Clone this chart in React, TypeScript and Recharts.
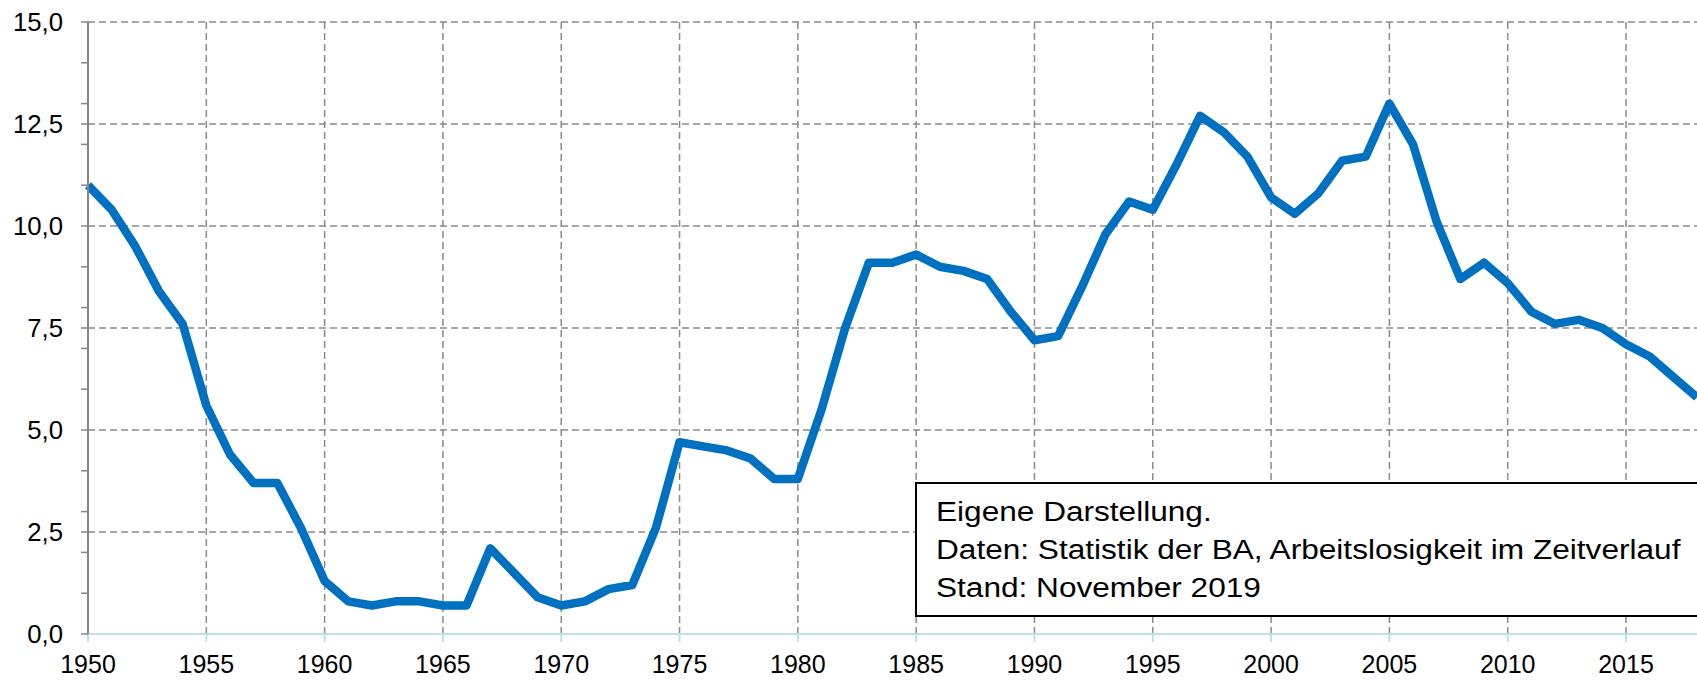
import { LineChart, Line, XAxis, YAxis, CartesianGrid } from "recharts";

const years = [
  1950, 1951, 1952, 1953, 1954, 1955, 1956, 1957, 1958, 1959,
  1960, 1961, 1962, 1963, 1964, 1965, 1966, 1967, 1968, 1969,
  1970, 1971, 1972, 1973, 1974, 1975, 1976, 1977, 1978, 1979,
  1980, 1981, 1982, 1983, 1984, 1985, 1986, 1987, 1988, 1989,
  1990, 1991, 1992, 1993, 1994, 1995, 1996, 1997, 1998, 1999,
  2000, 2001, 2002, 2003, 2004, 2005, 2006, 2007, 2008, 2009,
  2010, 2011, 2012, 2013, 2014, 2015, 2016, 2017, 2018,
];

// Arbeitslosenquote in %
const rates = [
  11.0, 10.4, 9.5, 8.4, 7.6, 5.6, 4.4, 3.7, 3.7, 2.6,
  1.3, 0.8, 0.7, 0.8, 0.8, 0.7, 0.7, 2.1, 1.5, 0.9,
  0.7, 0.8, 1.1, 1.2, 2.6, 4.7, 4.6, 4.5, 4.3, 3.8,
  3.8, 5.5, 7.5, 9.1, 9.1, 9.3, 9.0, 8.9, 8.7, 7.9,
  7.2, 7.3, 8.5, 9.8, 10.6, 10.4, 11.5, 12.7, 12.3, 11.7,
  10.7, 10.3, 10.8, 11.6, 11.7, 13.0, 12.0, 10.1, 8.7, 9.1,
  8.6, 7.9, 7.6, 7.7, 7.5, 7.1, 6.8, 6.3, 5.8,
];

const xTicks = [1950, 1955, 1960, 1965, 1970, 1975, 1980, 1985, 1990, 1995, 2000, 2005, 2010, 2015];
const yLabelTicks = [0, 2.5, 5, 7.5, 10, 12.5, 15];
const yMinorTicks = [0, 1, 2, 3, 4, 5, 6, 7, 8, 9, 10, 11, 12, 13, 14, 15];

const noteLines = [
  "Eigene Darstellung.",
  "Daten: Statistik der BA, Arbeitslosigkeit im Zeitverlauf",
  "Stand: November 2019",
];

const data = years.map((year, i) => ({ year, rate: rates[i] }));
const yAllTicks = Array.from(new Set([...yMinorTicks, ...yLabelTicks])).sort((a, b) => a - b);

const FONT = '"Liberation Sans", Arial, sans-serif';
const GRID = "#8a8a8a";
const AXIS_X = "#b9e2e7";

const YTick = (props: any) => {
  const { x, y, payload } = props;
  const v = payload?.value as number;
  if (!yLabelTicks.includes(v)) return <g />;
  const tx = x;
  return (
    <text
      x={tx}
      y={y}
      dy="0.36em"
      textAnchor="end"
      fontSize={25}
      fontFamily={FONT}
      fill="#000"
      transform={`translate(${tx} 0) scale(1.03 1) translate(${-tx} 0)`}
    >
      {v.toFixed(1).replace(".", ",")}
    </text>
  );
};

const XTick = (props: any) => {
  const { x, y, payload } = props;
  return (
    <text x={x} y={y + 31} textAnchor="middle" fontSize={25} fontFamily={FONT} fill="#000">
      {payload.value}
    </text>
  );
};

export default function App() {
  return (
    <div style={{ position: "relative", width: 1697, height: 680, overflow: "hidden", background: "#fff" }}>
      <style>{"body{margin:0}"}</style>
      <LineChart width={1697} height={680} data={data} margin={{ top: 22, right: 0, bottom: 0, left: 0 }}>
        <CartesianGrid
          stroke={GRID}
          strokeWidth={1.5}
          strokeDasharray="7 4"
          horizontalValues={yLabelTicks}
          verticalValues={xTicks}
        />
        <XAxis
          dataKey="year"
          type="number"
          domain={[1950, 2018]}
          ticks={xTicks}
          interval={0}
          height={46}
          tickSize={8}
          tickMargin={0}
          axisLine={{ stroke: AXIS_X, strokeWidth: 2 }}
          tickLine={{ stroke: AXIS_X, strokeWidth: 2 }}
          tick={<XTick />}
        />
        <YAxis
          type="number"
          domain={[0, 15]}
          ticks={yAllTicks}
          interval={0}
          width={88}
          tickSize={7}
          tickMargin={18}
          axisLine={{ stroke: "#868686", strokeWidth: 2 }}
          tickLine={{ stroke: "#868686", strokeWidth: 1.5 }}
          tick={<YTick />}
        />
        <Line
          type="linear"
          dataKey="rate"
          stroke="#0070C0"
          strokeWidth={8.5}
          strokeLinejoin="round"
          dot={false}
          activeDot={false}
          isAnimationActive={false}
        />
      </LineChart>
      <div
        style={{
          position: "absolute",
          left: 915,
          top: 482,
          width: 900,
          height: 135,
          boxSizing: "border-box",
          border: "2px solid #000",
          background: "#fff",
          paddingLeft: 19,
          paddingTop: 9,
          fontFamily: FONT,
          fontSize: 27,
          lineHeight: "38px",
          color: "#000",
        }}
      >
        {noteLines.map((t, i) => (
          <div key={i} style={{ transform: "scaleX(1.17)", transformOrigin: "left center", whiteSpace: "nowrap" }}>
            {t}
          </div>
        ))}
      </div>
    </div>
  );
}
